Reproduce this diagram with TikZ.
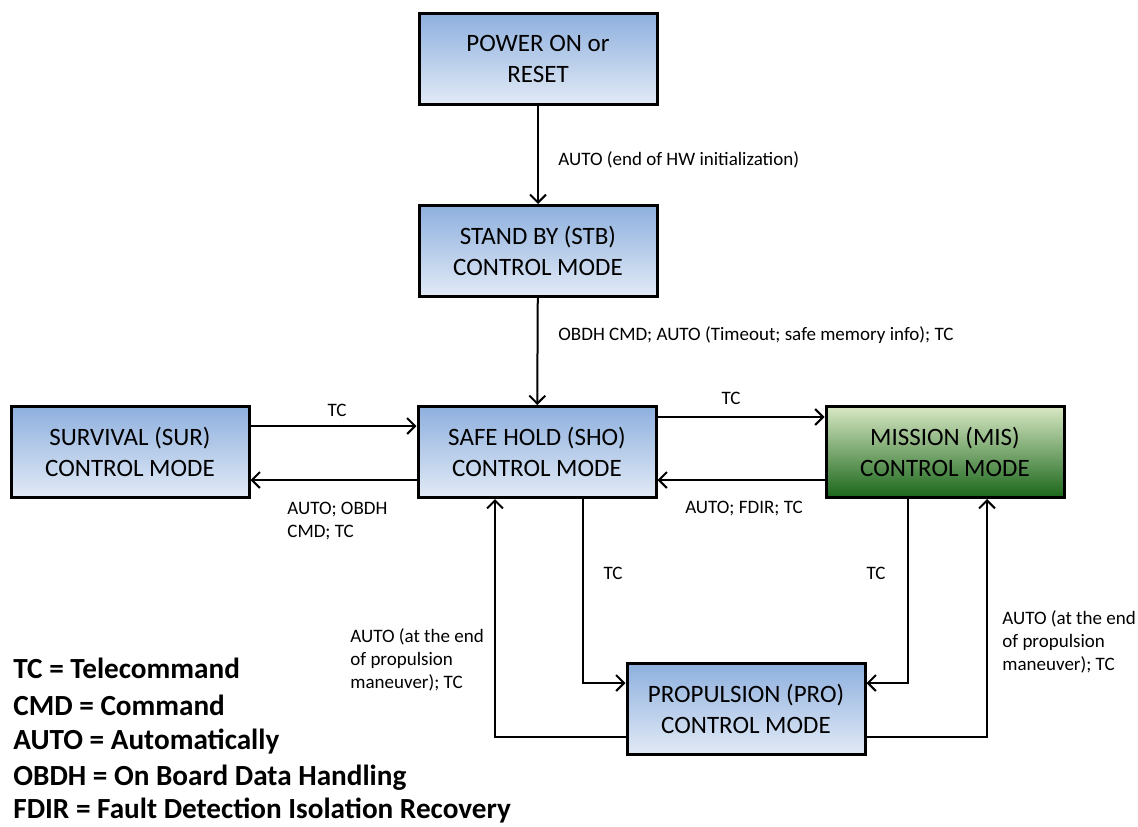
\documentclass[tikz,border=0pt]{standalone}
\usepackage{fontspec}
\setmainfont{Carlito}
\usepackage{tikz}
\usetikzlibrary{calc}
\usetikzlibrary{arrows.meta}
\usetikzlibrary{shadings}
\definecolor[named]{ModeBlueTop}{HTML}{8EB0DE}
\definecolor[named]{ModeBlueBot}{HTML}{E2EAF6}
\definecolor[named]{ModeGreenTop}{HTML}{D8E8C4}
\definecolor[named]{ModeGreenBot}{HTML}{1A661A}
\tikzset{
  mode/.style={draw=black, line width=1.5pt, minimum width=119pt, minimum height=45.5pt,
    top color=ModeBlueTop, bottom color=ModeBlueBot, align=center,
    font=\fontsize{12.5}{15.5}\selectfont, inner sep=0pt},
  missionmode/.style={mode, top color=ModeGreenTop, bottom color=ModeGreenBot},
  trans/.style={line width=1pt, -{Straight Barb[length=4pt,width=8pt,line width=1pt]}},
  lbl/.style={font=\fontsize{9.5}{11.5}\selectfont, align=left, inner sep=0pt},
  legend/.style={font=\bfseries\fontsize{14.6}{18.5}\selectfont, align=left, inner sep=0pt, anchor=west}
}

\begin{document}
\begin{tikzpicture}[x=0.5pt,y=-0.5pt]
      \useasboundingbox (0,0) rectangle (1138,826);
      % modes
      \node[mode] (power) at (538,59) {POWER ON or\\RESET};
      \node[mode] (stb) at (538,251) {STAND BY (STB)\\CONTROL MODE};
      \node[mode] (sho) at (537,452) {SAFE HOLD (SHO)\\CONTROL MODE};
      \node[mode] (sur) at (130,452) {SURVIVAL (SUR)\\CONTROL MODE};
      \node[missionmode] (mis) at (945,452) {MISSION (MIS)\\CONTROL MODE};
      \node[mode] (pro) at (746,709) {PROPULSION (PRO)\\CONTROL MODE};
      % transitions
      \draw[trans] (power) -- (stb);
      \draw[trans] (stb) -- (sho);
      \draw[trans] ([yshift=13pt]sur.east) -- ([yshift=13pt]sho.west);
      \draw[trans] ([yshift=-14pt]sho.west) -- ([yshift=-14pt]sur.east);
      \draw[trans] ([yshift=17.5pt]sho.east) -- ([yshift=17.5pt]mis.west);
      \draw[trans] ([yshift=-14pt]mis.west) -- ([yshift=-14pt]sho.east);
      \draw[trans] ([xshift=23pt]sho.south) |- ([yshift=13pt]pro.west);
      \draw[trans] ([xshift=-18.5pt]mis.south) |- ([yshift=13pt]pro.east);
      \draw[trans] ([yshift=-14pt]pro.west) -| ([xshift=-21pt]sho.south);
      \draw[trans] ([yshift=-14pt]pro.east) -| ([xshift=21pt]mis.south);
      % transition labels
      \node[lbl,anchor=west] (lhw) at (558,160) {AUTO (end of HW initialization)};
      \node[lbl,anchor=west] (lobdh) at (558,335) {OBDH CMD; AUTO (Timeout; safe memory info); TC};
      \node[lbl] (ltcsur) at (337,410) {TC};
      \node[lbl,anchor=north west] (lsur) at (287,502) {AUTO; OBDH\\CMD; TC};
      \node[lbl] (ltcmis) at (731,398) {TC};
      \node[lbl] (lfdir) at (744,509) {AUTO; FDIR; TC};
      \node[lbl] (ltcpro) at (613,573) {TC};
      \node[lbl] (ltcmp) at (876,573) {TC};
      \node[lbl,anchor=west] (lendl) at (350,660) {AUTO (at the end\\of propulsion\\maneuver); TC};
      \node[lbl,anchor=west] (lendr) at (1002,642) {AUTO (at the end\\of propulsion\\maneuver); TC};
      % legend
      \node[legend] (ktc) at (13,668) {TC = Telecommand};
      \node[legend] (kcmd) at (13,705) {CMD = Command};
      \node[legend] (kauto) at (13,742) {AUTO = Automatically};
      \node[legend] (kobdh) at (13,778) {OBDH = On Board Data Handling};
      \node[legend] (kfdir) at (13,811) {FDIR = Fault Detection Isolation Recovery};
\end{tikzpicture}
\end{document}
